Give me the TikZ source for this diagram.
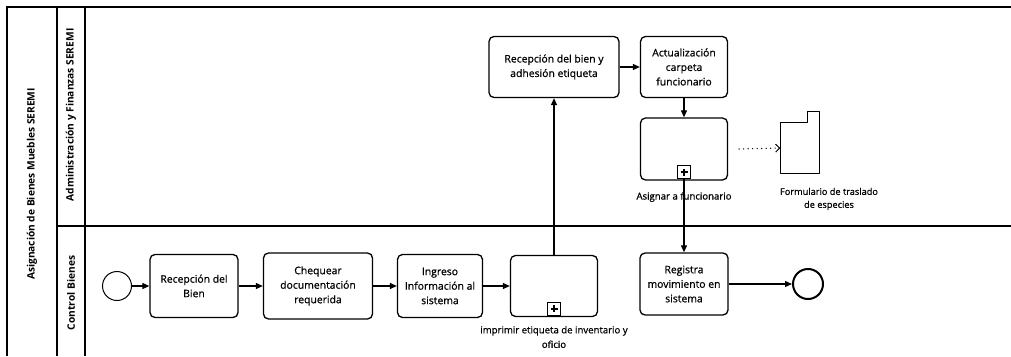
\documentclass[tikz,border=0pt]{standalone}
\usepackage{fontspec}
\setmainfont{Open Sans}
\newfontfamily\taskfont{Open Sans}[BoldFont={Open Sans}, BoldFeatures={FakeBold=0.7}]
\usetikzlibrary{arrows.meta}
\begin{document}
\begin{tikzpicture}[x=1pt,y=-1pt,
  txt/.style={font=\taskfont\bfseries\fontsize{9.6}{14.5}\selectfont},
  task/.style={font=\taskfont\bfseries\fontsize{10.4}{14.5}\selectfont,draw,line width=1.3pt,rounded corners=5pt,align=center,inner sep=1pt},
  marker/.style={draw,line width=1pt,minimum size=13pt,inner sep=0pt,
    path picture={\draw[line width=2pt]
      ([xshift=-3.5pt]path picture bounding box.center) -- ([xshift=3.5pt]path picture bounding box.center)
      ([yshift=-3.5pt]path picture bounding box.center) -- ([yshift=3.5pt]path picture bounding box.center);}},
  evt/.style={draw,circle,inner sep=0pt},
  flow/.style={line width=1.2pt,-{Triangle[length=7pt,width=6pt]}},
  assoc/.style={line width=1.4pt,line cap=round,dash pattern=on 0pt off 4.5pt,-{Straight Barb[length=4pt,width=8pt,line width=1pt]}},
  lanelbl/.style={font=\fontsize{10.2}{12}\selectfont\bfseries,rotate=90},
  poolline/.style={line width=1.1pt}]

\useasboundingbox (0,0) rectangle (1011,356);
\fill[white] (0,0) rectangle (1011,356);

% pool and lanes
\draw[poolline] (1011,7) -- (7,7) -- (7,356);
\draw[poolline] (57,7) -- (57,356);
\draw[poolline] (85,7) -- (85,356);
\draw[poolline] (57,226) -- (1011,226);
\node[lanelbl] (pool) at (32,184) {Asignación de Bienes Muebles SEREMI};
\node[lanelbl] (laneA) at (71,115) {Administración y Finanzas SEREMI};
\node[lanelbl] (laneB) at (71,293) {Control Bienes};

% lane: Control Bienes
\node[evt,minimum size=29pt,line width=1pt] (start) at (117,286) {};
\node[task,minimum width=88pt,minimum height=63pt] (t1) at (194,286) {Recepción del\\Bien};
\node[task,minimum width=109pt,minimum height=66pt] (t2) at (318,286) {Chequear\\documentación\\requerida};
\node[task,minimum width=85pt,minimum height=63pt] (t3) at (440,286) {Ingreso\\Información al\\sistema};
\node[task,minimum width=87pt,minimum height=61pt] (sp1) at (554,286) {};
\node[marker,anchor=south] (sp1m) at ([yshift=1.5pt]sp1.south) {};
\node[txt,align=center] (sp1l) at (554,337) {imprimir etiqueta de inventario y\\oficio};
\node[task,minimum width=88pt,minimum height=62pt] (t5) at (684,284) {Registra\\movimiento en\\sistema};
\node[evt,minimum size=30pt,line width=2pt] (end) at (808,284) {};

% lane: Administración y Finanzas SEREMI
\node[task,minimum width=130pt,minimum height=61pt] (t6) at (554,67) {Recepción del bien y\\adhesión etiqueta};
\node[task,minimum width=87pt,minimum height=61pt] (t7) at (684,67) {Actualización\\carpeta\\funcionario};
\node[task,minimum width=87pt,minimum height=62pt] (sp2) at (684,149) {};
\node[marker,anchor=south] (sp2m) at ([yshift=1.5pt]sp2.south) {};
\node[txt] (sp2l) at (684,197) {Asignar a funcionario};

% data object with folded corner
\node[minimum width=39pt,minimum height=51pt,inner sep=0pt] (doc) at (800,148) {};
\draw[line width=1.2pt,line join=round]
  (doc.north west) -- ([xshift=-12pt]doc.north east) -- ([xshift=-12pt,yshift=11pt]doc.north east)
  -- ([yshift=11pt]doc.north east) -- (doc.south east) -- (doc.south west) -- cycle;
\node[txt,align=center,font=\taskfont\bfseries\fontsize{9.2}{13}\selectfont] (docl) at (829,199) {Formulario de traslado\\de especies};

% sequence flows
\draw[flow] (start) -- (t1);
\draw[flow] (t1) -- (t2);
\draw[flow] (t2) -- (t3);
\draw[flow] (t3) -- (sp1);
\draw[flow] (sp1) -- (t6);
\draw[flow] (t6) -- (t7);
\draw[flow] (t7) -- (sp2);
\draw[flow] (sp2m.south) -- (t5.north);
\draw[flow] (t5) -- (end);

% association
\draw[assoc] (sp2.east) ++(11pt,0) -- (doc.west);
\end{tikzpicture}
\end{document}
